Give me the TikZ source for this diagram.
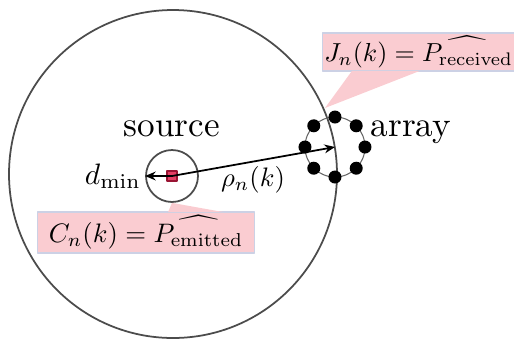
\documentclass[tikz,border=0pt]{standalone}
\usetikzlibrary{arrows.meta}
\definecolor{calloutPink}{rgb}{0.98,0.80,0.82}
\definecolor{calloutEdge}{rgb}{0.80,0.82,0.90}
\definecolor{sourceRed}{rgb}{0.90,0.25,0.40}
\definecolor{sourceEdge}{rgb}{0.60,0.08,0.20}
\newcommand{\smallmath}[2][0.76]{\scalebox{#1}{$#2$}}
\begin{document}
\begin{tikzpicture}
% geometry in pixels of the sketch
\def\pxsz{0.01cm}
\providecommand{\ringLineColor}{black!70}
\providecommand{\ringLineWidth}{0.5pt}
\providecommand{\arrayRadius}{30}
\providecommand{\arrayDotRadius}{6.5}
\begin{scope}[x=\pxsz, y=\pxsz, line cap=round, line join=round]
  \useasboundingbox (0,0) rectangle (514,341);
  \tikzset{
    notebox/.style={rectangle, fill=calloutPink, draw=calloutEdge,
      line width=0.3pt, inner ysep=0pt},
    ringline/.style={draw=\ringLineColor, line width=\ringLineWidth}
  }
  % Coverage circle
  \coordinate (cover) at (173,167);
  \draw[ringline] (cover) circle (164);
  % Source
  \coordinate (src) at (172,165);
  \node[circle, ringline, minimum size=52*\pxsz, inner sep=0pt] (srcring) at (src) {};
  \node[above=0pt] (srclabel) at (srcring.north) {source};
  \fill[sourceRed, draw=sourceEdge, line width=0.3pt] ([shift={(-5,-5)}]src) rectangle ++(10,10);
  % Array
  \coordinate (arr) at (335,194);
  \draw[black!60, line width=0.3pt] (arr) circle (\arrayRadius);
  \foreach \a in {0,45,...,315}
    \fill (arr) ++(\a:\arrayRadius) circle (\arrayDotRadius);
  \node (arrlabel) at (411,209) {array};
  % Distances
  \draw[-{Stealth[length=3pt,width=2.5pt]}, line width=0.5pt] (src) -- (srcring.west);
  \node[anchor=east, inner sep=1pt] (dmin) at (srcring.west) {\smallmath[0.84]{d_{\min}}};
  \draw[-{Stealth[length=3pt,width=2.5pt]}, line width=0.5pt] (src) -- (arr);
  \node (rho) at (253,161) {\smallmath{\rho_n(k)}};
  % Callouts
  \node[notebox, minimum width=208*\pxsz, minimum height=41*\pxsz] (emit) at (146,108.5)
    {\smallmath{C_n(k) = \widehat{P_{\mathrm{emitted}}}}};
  \coordinate (emittip) at (srcring.south);
  \fill[calloutPink] ([xshift=22*\pxsz, yshift=-0.2pt]emit.north) -- (emittip)
    -- ([xshift=78*\pxsz, yshift=-0.2pt]emit.north) -- cycle;
  \node[notebox, anchor=west, minimum height=38*\pxsz, inner xsep=0.5pt] (recv) at (322,289)
    {\smallmath[0.74]{J_n(k) = \widehat{P_{\mathrm{received}}}}};
  \coordinate (recvtip) at (325,233);
  \fill[calloutPink] ([xshift=30*\pxsz, yshift=0.2pt]recv.south west) -- (recvtip)
    -- ([xshift=98*\pxsz, yshift=0.2pt]recv.south west) -- cycle;
\end{scope}
\end{tikzpicture}
\end{document}
